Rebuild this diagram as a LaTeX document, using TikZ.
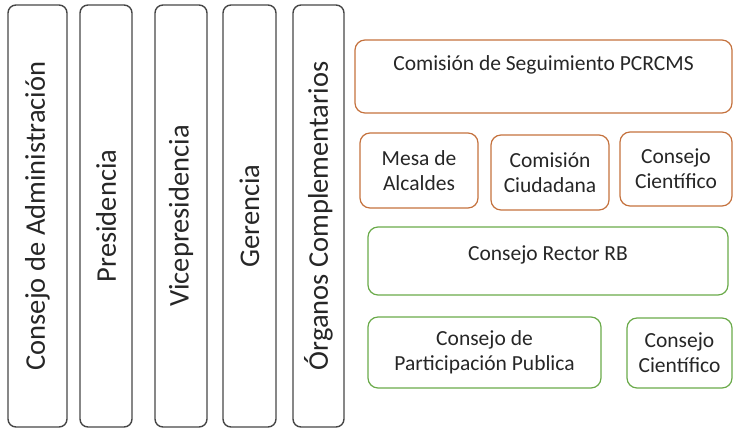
\documentclass[tikz,border=0pt]{standalone}
\usepackage{fontspec}
\setmainfont{Carlito}
\definecolor{boxline}{RGB}{70,70,70}
\definecolor{orgline}{RGB}{196,114,62}
\definecolor{grnline}{RGB}{106,170,74}
\definecolor{txt}{RGB}{38,38,38}
\begin{document}
\begin{tikzpicture}[x=1pt,y=-1pt,
	organo/.style={draw=boxline, line width=1.4pt, rounded corners=8pt, rotate=90,
		minimum width=422pt, inner sep=0pt, text=txt, font=\fontsize{28.5}{30}\selectfont},
	comision/.style={draw=orgline, line width=1.2pt, rounded corners=10pt, inner sep=0pt,
		text=txt, align=center, font=\fontsize{21.5}{25}\selectfont},
	consejo/.style={comision, draw=grnline}]
	\useasboundingbox (0,0) rectangle (733,429);

	\node[organo, minimum height=59pt] (admin) at (37.5,216) {Consejo de Administración};
	\node[organo, minimum height=52pt] (pres) at (106,216) {Presidencia};
	\node[organo, minimum height=52pt] (vice) at (181,216) {Vicepresidencia};
	\node[organo, minimum height=53pt] (ger) at (249.5,216) {Gerencia};
	\node[organo, minimum height=51pt] (compl) at (318.5,216) {Órganos Complementarios};

	\node[comision, minimum width=377pt, text height=30pt, text depth=43pt] (segui)
		at (543.5,76.5) {Comisión de Seguimiento PCRCMS};
	\node[comision, minimum width=118pt, minimum height=75pt] (mesa)
		at (419,170.5) {Mesa de\\Alcaldes};
	\node[comision, minimum width=118pt, minimum height=75pt] (ciud)
		at (550,172.5) {Comisión\\Ciudadana};
	\node[comision, minimum width=112pt, minimum height=74pt] (cient1)
		at (676,169) {Consejo\\Científico};

	\node[consejo, minimum width=360pt, text height=33pt, text depth=35pt] (rector)
		at (548,261) {Consejo Rector RB};
	\node[consejo, minimum width=233pt, minimum height=71pt] (partic)
		at (484.5,352.5) {Consejo de\\Participación Publica};
	\node[consejo, minimum width=105pt, minimum height=70pt] (cient2)
		at (679.5,353) {Consejo\\Científico};
\end{tikzpicture}
\end{document}
